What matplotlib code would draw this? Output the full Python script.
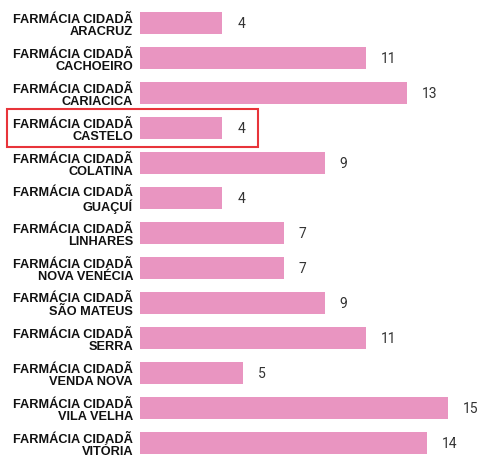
import matplotlib.pyplot as plt
from matplotlib.patches import Rectangle

cidades = ["ARACRUZ", "CACHOEIRO", "CARIACICA", "CASTELO", "COLATINA",
           "GUAÇUÍ", "LINHARES", "NOVA VENÉCIA", "SÃO MATEUS", "SERRA",
           "VENDA NOVA", "VILA VELHA", "VITÓRIA"]
valores = [4, 11, 13, 4, 9, 4, 7, 7, 9, 11, 5, 15, 14]
labels = ["FARMÁCIA CIDADÃ\n" + c for c in cidades]
destaque = "CASTELO"

W, H = 484, 456
fig = plt.figure(figsize=(W / 100, H / 100), dpi=100)
left = 140 / W
ax = fig.add_axes([left, 0, 1 - left, 1])

y = list(range(len(valores)))
ax.barh(y, valores, height=0.63, color="#e995c1", edgecolor="none")
ax.set_xlim(0, (W - 140) / 20.5)
ax.set_ylim(12 + 12 / 35, -24 / 35)

for yi, v in zip(y, valores):
    ax.annotate(str(v), (v, yi), xytext=(11, 0), textcoords="offset points",
                va="center", ha="left", fontsize=10, color="#333333",
                family="Roboto")

ax.set_yticks(y)
ax.set_yticklabels(labels, fontsize=9.2, fontweight="bold",
                   family="Liberation Sans", linespacing=1.0, color="#111111")
ax.tick_params(axis="y", length=0, pad=5)
ax.set_xticks([])
for s in ax.spines.values():
    s.set_visible(False)

# caixa vermelha em volta da linha destacada
i = cidades.index(destaque)
yc = 24 + 35 * i
fig.patches.append(Rectangle((7 / W, 1 - (yc + 19) / H), 251 / W, 38 / H,
                             transform=fig.transFigure, fill=False,
                             edgecolor="#e8343a", linewidth=1.5))

fig.savefig("out.png", dpi=100)
